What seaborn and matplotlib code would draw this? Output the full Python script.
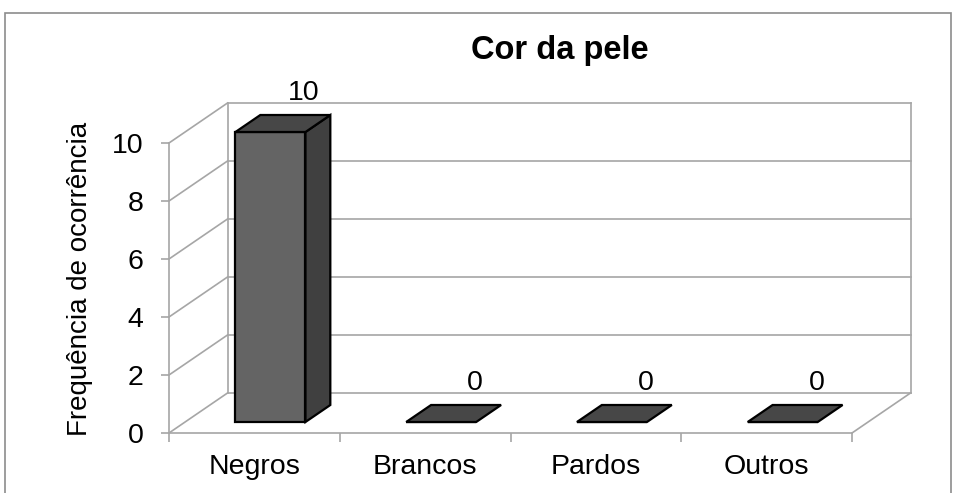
import matplotlib
matplotlib.use("Agg")
import matplotlib.pyplot as plt
from matplotlib.patches import Polygon, Rectangle
import seaborn as sns
import pandas as pd

# Chart data
categories = ["Negros", "Brancos", "Pardos", "Outros"]
frequencies = [10, 0, 0, 0]
y_ticks = [0, 2, 4, 6, 8, 10]
title = "Cor da pele"
y_label = "Frequência de ocorrência"

sns.set_style("white")
plt.rcParams["font.family"] = ["Liberation Sans", "DejaVu Sans"]

W, H, DPI = 956, 493, 100
fig = plt.figure(figsize=(W / DPI, H / DPI), dpi=DPI)

# front plane of the 3-D box, in pixels
X0, X1, Y0, Y1 = 169, 852, 433, 143
ax = fig.add_axes([X0 / W, 1 - Y0 / H, (X1 - X0) / W, (Y0 - Y1) / H])

df = pd.DataFrame({"cat": categories, "freq": frequencies})
sns.barplot(data=df, x="cat", y="freq", color="#646464", width=0.41,
            edgecolor="black", linewidth=1.6, errorbar=None, ax=ax,
            saturation=1, zorder=3)

ax.set_xlim(-0.5, len(categories) - 0.5)
ax.set_ylim(0, 10)

# depth vector of the box (pixels -> data units)
DEPTH_PX = (58.5, 40.0)
p0 = ax.transData.transform((0, 0))
p1 = ax.transData.transform((1, 1))
ddx = DEPTH_PX[0] / (p1[0] - p0[0])
ddy = DEPTH_PX[1] / (p1[1] - p0[1])

WALL = "#a6a6a6"
LW = 1.2
xl, xr = -0.5, len(categories) - 0.5
line_kw = dict(color=WALL, lw=LW, clip_on=False, zorder=1,
               solid_capstyle="projecting")

# back wall gridlines and edges
for v in y_ticks:
    ax.plot([xl + ddx, xr + ddx], [v + ddy, v + ddy], **line_kw)
    # side wall diagonals
    ax.plot([xl, xl + ddx], [v, v + ddy], **line_kw)
ax.plot([xl + ddx, xl + ddx], [ddy, 10 + ddy], **line_kw)
ax.plot([xr + ddx, xr + ddx], [ddy, 10 + ddy], **line_kw)
# floor right edge
ax.plot([xr, xr + ddx], [0, ddy], **line_kw)

# 3-D bar bodies: front face at depth f0, back face at depth f1
f0, f1 = 0.275, 0.70
d = f1 - f0
for patch, val in zip(ax.patches, frequencies):
    x = patch.get_x()
    w = patch.get_width()
    patch.set_x(x + f0 * ddx)
    patch.set_y(f0 * ddy)
    patch.set_height(val)
    patch.set_clip_on(False)
    fx0 = x + f0 * ddx
    fx1 = fx0 + w
    bot = f0 * ddy
    top = bot + val
    top_face = Polygon([(fx0, top), (fx1, top), (fx1 + d * ddx, top + d * ddy),
                        (fx0 + d * ddx, top + d * ddy)], closed=True,
                       facecolor="#474747", edgecolor="black", lw=1.6,
                       joinstyle="miter", clip_on=False, zorder=4)
    ax.add_patch(top_face)
    if val > 0:
        side = Polygon([(fx1, bot), (fx1, top), (fx1 + d * ddx, top + d * ddy),
                        (fx1 + d * ddx, bot + d * ddy)], closed=True,
                       facecolor="#404040", edgecolor="black", lw=1.6,
                       joinstyle="miter", clip_on=False, zorder=3.5)
        ax.add_patch(side)

# value labels
fl = 0.85
for i, val in enumerate(frequencies):
    ax.annotate(f"{val}", xy=(i + fl * ddx, val + fl * ddy),
                xytext=(0, 6.5), textcoords="offset points",
                ha="center", va="baseline", fontsize=20.5, color="black",
                annotation_clip=False, zorder=6)

# axes styling
for s in ["top", "right"]:
    ax.spines[s].set_visible(False)
for s in ["left", "bottom"]:
    ax.spines[s].set_color(WALL)
    ax.spines[s].set_linewidth(LW)
    ax.spines[s].set_zorder(1)

ax.set_yticks(y_ticks)
ax.set_yticklabels([str(t) for t in y_ticks])
ax.tick_params(axis="y", which="major", length=5.5, width=LW, color=WALL,
               pad=13, labelsize=20.5, labelcolor="black", left=True)
ax.set_xticks(range(len(categories)))
ax.set_xticklabels(categories)
ax.set_xticks([i - 0.5 for i in range(len(categories) + 1)], minor=True)
ax.tick_params(axis="x", which="major", length=0, pad=15, labelsize=20.5,
               labelcolor="black")
ax.tick_params(axis="x", which="minor", length=6.5, width=LW, color=WALL,
               bottom=True)
ax.set_xlabel("")
ax.set_ylabel(y_label, fontsize=20, color="black")
ax.yaxis.set_label_coords(-0.111, 0.53)
ax.grid(False)
ax.set_facecolor("none")

fig.text(560 / W, 1 - 50 / H, title, ha="center", va="center",
         fontsize=23.5, fontweight="bold", color="black")

# chart area border
fig.patches.append(Rectangle((5 / W, -0.1), (951 - 5) / W, 1.1 - 13 / H,
                             transform=fig.transFigure, fill=False,
                             edgecolor="#8c8c8c", lw=1.2, zorder=0))

fig.savefig("out.png", dpi=DPI)
